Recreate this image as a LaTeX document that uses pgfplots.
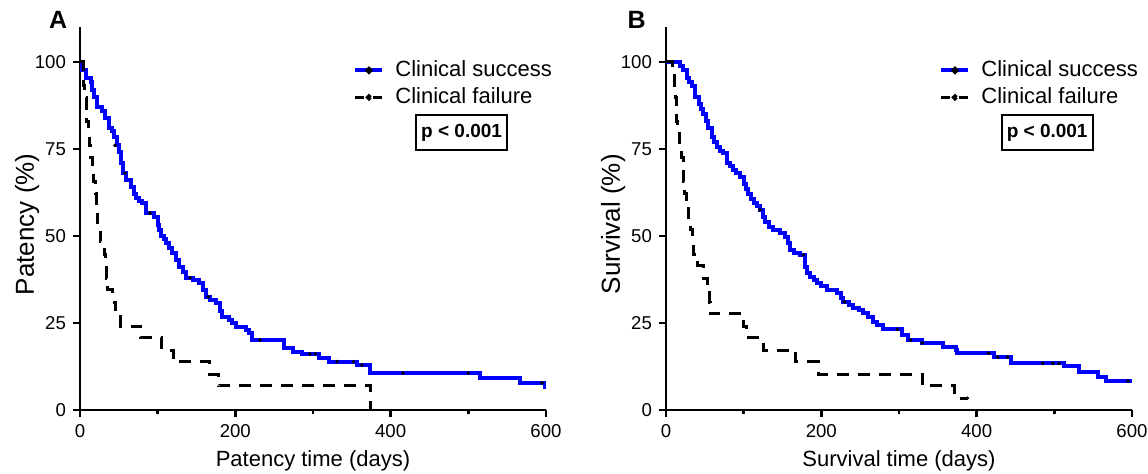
\documentclass[border=0pt]{standalone}
\usepackage{fontspec}
\setmainfont{Liberation Sans}
\usepackage{pgfplots}
\pgfplotsset{compat=1.18}

\pgfplotsset{
  kmaxis/.style={
    scale only axis, width=233pt, height=191.5pt,
    xmin=0, xmax=600, ymin=0, ymax=110,
    clip mode=individual,
    axis lines*=left,
    axis line style={line width=1.2pt},
    xtick={0,200,400,600}, minor xtick={100,300,500},
    ytick={0,25,50,75,100},
    tick align=outside,
    major tick length=3.5pt, minor tick length=2pt,
    tick style={black, line width=1.2pt},
    tick label style={font=\fontsize{9.3}{11}\selectfont},
    /pgf/number format/assume math mode=true,
    xlabel style={font=\fontsize{11}{13}\selectfont},
    ylabel style={font=\fontsize{13}{15}\selectfont, at={(ticklabel cs:0.485,-9pt)}},
    legend cell align=left,
    legend style={at={(rel axis cs:0.586,0.919)}, anchor=north west,
      draw=none, fill=none, inner sep=0pt, row sep=1.5pt,
      font=\fontsize{11}{13}\selectfont,
      nodes={inner sep=1pt, text height=8pt, text depth=2pt},
      /tikz/every odd column/.append style={column sep=4.5pt}},
  },
  success/.style={blue, line width=2pt, const plot,
    legend image code/.code={
      \draw[solid, blue, line width=2pt] (0pt,0pt) -- (13.5pt,0pt);
      \fill[black] (6.75pt,0pt) circle (0.7pt);}},
  failure/.style={black, line width=1.5pt, const plot, dash pattern=on 6pt off 4.5pt,
    legend image code/.code={
      \draw[solid, black, line width=1.5pt] (0pt,0pt) -- (4.5pt,0pt) (9pt,0pt) -- (13.5pt,0pt);
      \fill[black] (6.75pt,0pt) circle (0.8pt);}},
  censor/.style={only marks, mark=*, mark size=0.7pt, black, forget plot},
}

\begin{document}
\begin{tikzpicture}
\useasboundingbox (-40pt,-31.5pt) rectangle (534pt,205pt);

% ---------- A: patency ----------
\begin{axis}[kmaxis, at={(0pt,0pt)}, anchor=south west,
  xlabel={Patency time (days)}, ylabel={Patency (\%)}]
\addplot[success] coordinates {
 (0,100) (3,97.7) (8,95.4) (14,94.3) (16,92) (18,90) (22,87) (28,86) (32,84)
 (37,81) (41,80) (44,78.5) (47,76) (50,74) (53,71) (56,68) (59,66) (66,64)
 (69,62) (72,61) (76,60) (80,59.5) (85,56.6) (95,55.5) (100,53) (102,51.7)
 (104,50) (108,49) (111,48) (115,46.5) (119,45) (124,43) (128,41) (132,39.5)
 (136,38) (145,37.2) (153,36.5) (158,34.5) (162,32.5) (168,31.5) (175,30.7)
 (180,28.5) (183,26.7) (192,25.9) (196,25) (201,23.9) (214,23) (218,22)
 (222,20.1) (263,17.8) (274,16.8) (286,16.1) (308,15) (321,13.9) (357,12.9)
 (373,10.6) (515,9.2) (567,7.8) (599,6.7) (600,6.7)
};
\addlegendentry{Clinical success}
\addplot[failure] coordinates {
 (0,100) (4,93.1) (6,89.7) (8,86.2) (9,82.8) (11,79.3) (12,75.9) (14,72.4)
 (16,69.0) (18,65.5) (20,62.1) (21,58.6) (22,55.2) (23,51.7) (26,48.3)
 (31,44.8) (33,41.4) (34,37.9) (36,34.5) (42,31.0) (46,27.6) (52,24.1)
 (78,20.7) (105,17.2) (120,13.8) (167,10.3) (178,6.9) (374,0)
};
\addlegendentry{Clinical failure}
\addplot[censor] coordinates {
 (45,76) (58,68) (90,56.6) (142,38) (165,32.5) (232,20.1) (296,16.1)
 (303,16.1) (331,13.9) (352,13.9) (363,12.9) (416,10.6) (500,10.6) (595,7.8)
};
\node[draw, line width=1pt, font=\bfseries\fontsize{9.5}{11}\selectfont,
  minimum width=45.5pt, minimum height=17.5pt, inner sep=0pt]
  at (rel axis cs:0.819,0.7245) {p < 0.001};
\node[font=\bfseries\fontsize{12.5}{14}\selectfont] at (rel axis cs:-0.047,1.018) {A};
\end{axis}

% ---------- B: survival ----------
\begin{axis}[kmaxis, at={(293pt,0pt)}, anchor=south west,
  xlabel={Survival time (days)}, ylabel={Survival (\%)}]
\addplot[success] coordinates {
 (0,100) (18,98.8) (22,97.7) (27,95.4) (30,94.3) (33,93) (37,90) (42,88)
 (45,86.5) (48,85) (51,83) (54,81) (59,78.5) (62,77) (66,75.6) (70,74.5)
 (74,73.8) (78,71) (82,70) (86,69) (90,68) (95,67) (100,65) (103,63.5)
 (106,62) (110,60.5) (113,59.5) (117,58.5) (121,57.5) (125,55.5) (128,54)
 (132,52.6) (138,51.7) (147,50.8) (153,49.8) (157,48) (160,46) (165,45.2)
 (173,44.5) (179,41) (182,39.3) (186,38.3) (190,37.4) (195,36.4) (200,35.5)
 (207,34.5) (220,33.5) (225,32.2) (228,31) (235,30.2) (241,29.3) (248,28.6)
 (254,27.9) (260,26.7) (267,25.3) (272,24.4) (279,23.2) (304,21.6) (312,20.1)
 (330,19.2) (357,18.2) (373,17.2) (375,16.3) (422,15.2) (444,13.4) (512,12.5)
 (532,11) (556,9.6) (566,8.3) (600,8.3)
};
\addlegendentry{Clinical success}
\addplot[failure] coordinates {
 (0,100) (9,96.6) (11,93.1) (12,89.7) (13,86.2) (14,82.8) (15,79.3) (18,75.9)
 (20,72.4) (22,69.0) (23,65.5) (24,62.1) (26,58.6) (29,55.2) (32,51.7)
 (34,48.3) (35,44.8) (41,41.4) (48,37.9) (53,34.5) (56,31.0) (57,27.6)
 (100,24.1) (104,20.7) (125,17.2) (167,13.8) (196,10.3) (330,6.9) (372,3.4)
 (388,3.4)
};
\addlegendentry{Clinical failure}
\addplot[censor] coordinates {
 (121,57.5) (177,44.5) (230,31) (298,23.2) (315,20.1) (330,19.2) (415,16.3)
 (427,15.2) (440,15.2) (485,13.4) (498,13.4) (506,13.4) (595,8.3) (388,3.4)
};
\node[draw, line width=1pt, font=\bfseries\fontsize{9.5}{11}\selectfont,
  minimum width=45.5pt, minimum height=17.5pt, inner sep=0pt]
  at (rel axis cs:0.818,0.7245) {p < 0.001};
\node[font=\bfseries\fontsize{12.5}{14}\selectfont] at (rel axis cs:-0.063,1.018) {B};
\end{axis}
\end{tikzpicture}
\end{document}
